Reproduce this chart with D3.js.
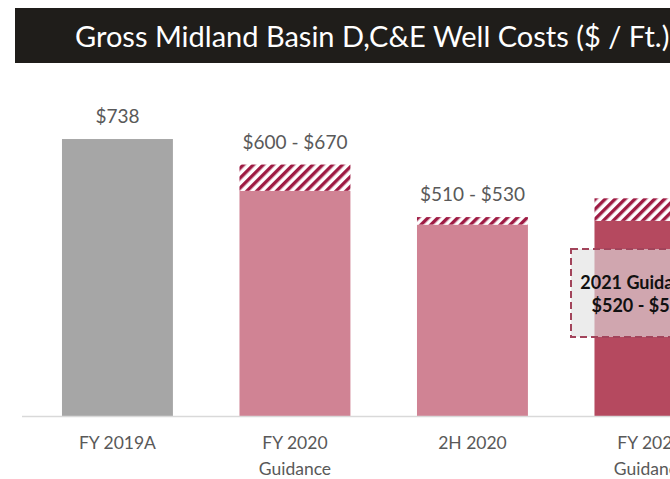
<!DOCTYPE html>
<html>
<head>
<meta charset="utf-8">
<script src="https://cdn.jsdelivr.net/npm/d3@7"></script>
<style>
  body { margin: 0; background: #fff; }
  svg { display: block; }
</style>
</head>
<body>
<svg id="chart"></svg>
<script>
const categories = ["FY 2019A", "FY 2020 Guidance", "2H 2020", "FY 2021 Guidance"];
const tickLines = [["FY 2019A"], ["FY 2020", "Guidance"], ["2H 2020"], ["FY 2021", "Guidance"]];
const lowValues = [738, 600, 510, 520];
const highValues = [738, 670, 530, 580];
const valueLabels = ["$738", "$600 - $670", "$510 - $530", ""];
const barColors = ["#a6a6a6", "#d08394", "#d08394", "#b5495f"];
const boxLines = ["2021 Guidance", "$520 - $580"];

const W = 670, H = 479;
const svg = d3.select("#chart").attr("width", W).attr("height", H);
const font = "Lato, 'Open Sans', sans-serif";

// hatch pattern for the guidance range
svg.append("defs").append("pattern")
  .attr("id", "hatch").attr("patternUnits", "userSpaceOnUse")
  .attr("width", 7).attr("height", 7).attr("patternTransform", "rotate(45)")
  .call(p => {
    p.append("rect").attr("width", 7).attr("height", 7).attr("fill", "#fff");
    p.append("rect").attr("width", 3.4).attr("height", 7).attr("fill", "#9e1b43");
  });

// title bar
svg.append("rect").attr("x", 15).attr("y", 8).attr("width", W).attr("height", 55).attr("fill", "#1f1d1a");
svg.append("text").attr("x", 75).attr("y", 47).attr("fill", "#fff")
  .style("font-family", font).style("font-size", "29px")
  .text("Gross Midland Basin D,C&E Well Costs ($ / Ft.)");

const x = d3.scaleBand().domain(categories).range([28.7, 28.7 + 4 * 177.5])
  .paddingInner(0.375).paddingOuter(0.1875);
const y = d3.scaleLinear().domain([0, 800]).range([416, 416 - 800 * 0.3753]);

const g = svg.append("g");

// solid part
g.selectAll(".bar").data(categories).enter().append("rect")
  .attr("class", "bar")
  .attr("x", d => x(d)).attr("width", x.bandwidth())
  .attr("y", (d, i) => y(lowValues[i]))
  .attr("height", (d, i) => y(0) - y(lowValues[i]))
  .attr("fill", (d, i) => barColors[i]);

// hatched range
g.selectAll(".range").data(categories.filter((d, i) => highValues[i] > lowValues[i])).enter().append("rect")
  .attr("class", "range")
  .attr("x", d => x(d)).attr("width", x.bandwidth())
  .attr("y", d => y(highValues[categories.indexOf(d)]))
  .attr("height", d => { const i = categories.indexOf(d); return y(lowValues[i]) - y(highValues[i]); })
  .attr("fill", "url(#hatch)");

// value labels
g.selectAll(".val").data(categories).enter().append("text")
  .attr("x", d => x(d) + x.bandwidth() / 2)
  .attr("y", (d, i) => y(highValues[i]) - 16)
  .attr("text-anchor", "middle").attr("fill", "#595959")
  .style("font-family", font).style("font-size", "19px")
  .text((d, i) => valueLabels[i]);

// baseline
svg.append("line").attr("x1", 22).attr("x2", W).attr("y1", y(0) + 0.5).attr("y2", y(0) + 0.5)
  .attr("stroke", "#d9d9d9").attr("stroke-width", 1.5);

// category labels
const ticks = g.selectAll(".tick").data(categories).enter().append("text")
  .attr("x", d => x(d) + x.bandwidth() / 2).attr("y", 449)
  .attr("text-anchor", "middle").attr("fill", "#595959")
  .style("font-family", font).style("font-size", "17.5px");
ticks.each(function(d, i) {
  d3.select(this).selectAll("tspan").data(tickLines[i]).enter().append("tspan")
    .attr("x", x(d) + x.bandwidth() / 2).attr("dy", (t, j) => j === 0 ? 0 : 26).text(t => t);
});

// guidance callout box
const bx = 571, by = 249, bw = 140, bh = 88;
svg.append("rect").attr("x", bx).attr("y", by).attr("width", bw).attr("height", bh)
  .attr("fill", "#e0e0e0").attr("fill-opacity", 0.62)
  .attr("stroke", "#a2445b").attr("stroke-width", 2).attr("stroke-dasharray", "7,4");
svg.append("text").attr("x", bx + bw / 2).attr("y", 289)
  .attr("text-anchor", "middle").attr("fill", "#111")
  .style("font-family", font).style("font-size", "18px").style("font-weight", "bold")
  .selectAll("tspan").data(boxLines).enter().append("tspan")
  .attr("x", bx + bw / 2).attr("dy", (t, j) => j === 0 ? 0 : 23).text(t => t);
</script>
</body>
</html>
